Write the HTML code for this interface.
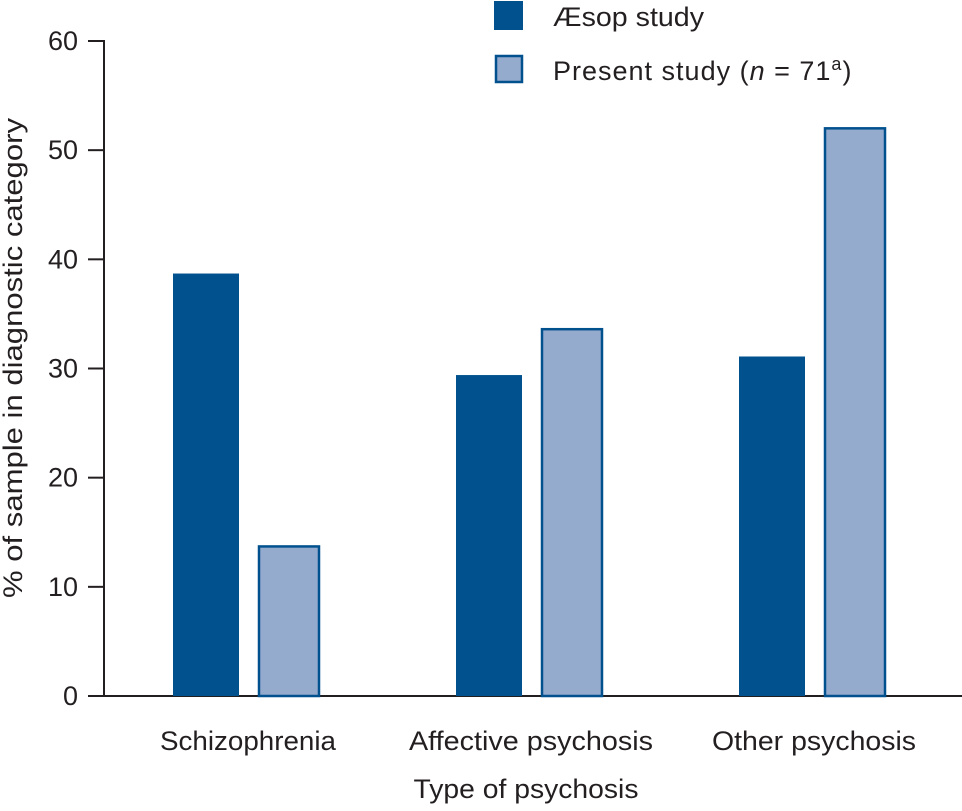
<!DOCTYPE html>
<html><head><meta charset="utf-8"><style>
body{margin:0;background:#fff}
svg text{font-family:"Liberation Sans",sans-serif;fill:#231f20}
</style></head><body>
<svg id="chart" width="962" height="806" xmlns="http://www.w3.org/2000/svg">
<g id="axes"></g><g id="bars"></g>
<g>
<rect x="494" y="1" width="29" height="29" fill="#00518e"/>
<text x="553" y="26" font-size="27" textLength="151" lengthAdjust="spacingAndGlyphs">Æsop study</text>
<rect x="496" y="56" width="26" height="26" fill="#95abcd" stroke="#00518e" stroke-width="2.5"/>
<text x="553" y="80" font-size="27" letter-spacing="1">Present study (<tspan font-style="italic">n</tspan> = 71<tspan font-size="18" dy="-10">a</tspan><tspan dy="10">)</tspan></text>
</g>
<text transform="translate(22,358) rotate(-90)" text-anchor="middle" font-size="27" textLength="480" lengthAdjust="spacingAndGlyphs">% of sample in diagnostic category</text>
<text x="526" y="798" text-anchor="middle" font-size="27" textLength="225" lengthAdjust="spacingAndGlyphs">Type of psychosis</text>
</svg>
<script>
const categories=["Schizophrenia","Affective psychosis","Other psychosis"];
const aesopValues=[38.7,29.4,31.1];
const presentValues=[13.7,33.6,52.0];
const yTicks=[0,10,20,30,40,50,60];
const labelWidths=[176,244,204];
const NS="http://www.w3.org/2000/svg";
const y=v=>696-v*(655/60);
const groupCenter=i=>246+i*283;
const axes=document.getElementById('axes'),bars=document.getElementById('bars');
function mk(tag,attrs,parent){const e=document.createElementNS(NS,tag);for(const k in attrs)e.setAttribute(k,attrs[k]);parent.appendChild(e);return e;}
const ya=mk('line',{x1:104,y1:40,x2:104,y2:697,stroke:'#231f20','stroke-width':2},axes);


const xa=mk('line',{x1:103,y1:696,x2:962,y2:696,stroke:'#231f20','stroke-width':2},axes);


yTicks.forEach(t=>{
 const l=mk('line',{x1:88,y1:y(t),x2:104,y2:y(t),stroke:'#231f20','stroke-width':2},axes);
 
 
 const tx=mk('text',{x:78,y:y(t)+9,'text-anchor':'end','font-size':27},axes);
 tx.textContent=t;
 
 
});
categories.forEach((c,i)=>{
 const cx=groupCenter(i);
 const a=mk('rect',{x:cx-73,y:y(aesopValues[i]),width:66,height:696-y(aesopValues[i]),fill:'#00518e'},bars);
 
 
 const p=mk('rect',{x:cx+13,y:y(presentValues[i]),width:60,height:696-y(presentValues[i]),fill:'#95abcd',stroke:'#00518e','stroke-width':2.5},bars);
 
 
 const tx=mk('text',{x:cx+2,y:750,'text-anchor':'middle','font-size':27,textLength:labelWidths[i],lengthAdjust:'spacingAndGlyphs'},axes);
 tx.textContent=c;
 
 
});
</script>
</body></html>
